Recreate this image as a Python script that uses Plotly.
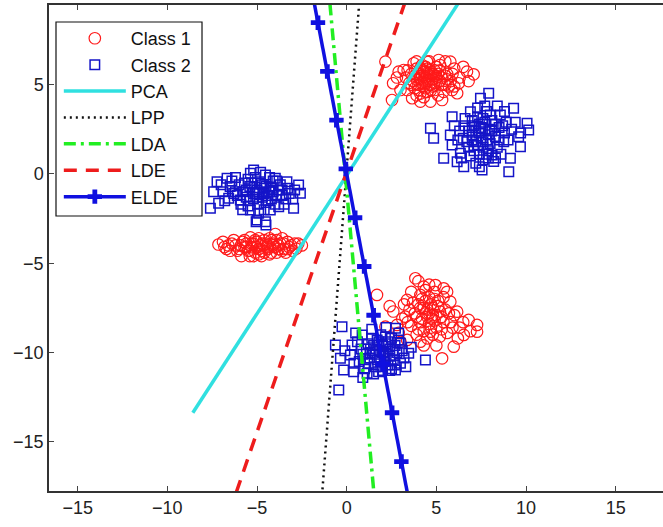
import plotly.graph_objects as go

# ---------------- data ----------------
# Class 1 (red circles) clusters, (x, y) pairs
class1_upper = [
    (2.16, 6.29), (2.59, 5.08), (2.53, 4.14), (2.90, 5.73), (4.11, 4.05), (4.67, 4.05), (5.32, 4.14), (5.88, 4.70),
    (6.25, 5.08), (6.71, 5.73), (7.08, 5.58), (5.78, 6.29), (5.13, 6.38), (4.48, 6.29), (3.74, 6.20), (3.18, 5.82),
    (3.37, 4.70), (3.65, 4.24), (6.16, 4.52), (4.2, 5.5), (4.5, 5.2), (4.8, 5.6), (4.3, 4.9), (5.0, 5.1), (4.6, 5.8),
    (3.9, 5.3), (5.3, 5.4), (4.1, 5.9), (4.9, 4.7), (5.5, 5.0), (3.8, 4.8), (4.4, 5.4), (4.7, 5.0), (5.2, 5.8),
    (3.6, 5.6), (4.0, 5.0), (5.6, 5.6), (4.5, 4.6), (5.0, 6.0), (4.3, 5.7), (4.8, 5.3), (3.5, 5.1), (5.8, 5.2),
    (4.1, 4.5), (5.4, 4.6), (4.6, 5.5), (4.2, 6.1), (3.3, 5.4), (5.1, 4.4), (4.4, 5.1), (4.9, 5.5), (6.0, 5.9),
    (3.9, 4.4), (5.7, 4.9), (3.7, 5.2), (4.0, 5.6), (4.3, 5.3), (4.6, 5.0), (4.9, 5.8), (5.2, 5.2), (5.5, 5.5),
    (3.9, 5.9), (4.4, 4.8), (4.7, 5.6), (5.0, 5.4), (4.2, 5.1), (4.5, 5.9), (4.8, 4.9), (5.3, 5.0), (3.6, 5.0),
    (4.1, 5.4), (4.6, 5.3), (5.1, 5.6), (3.8, 5.5), (4.4, 6.0), (4.9, 5.1), (5.6, 5.3), (4.0, 4.7), (4.3, 5.8),
    (4.7, 4.7), (5.2, 6.1), (3.4, 5.8), (5.9, 5.6), (4.5, 5.6), (6.3, 5.4), (6.5, 6.0), (3.0, 4.7), (2.8, 5.4),
    (6.8, 5.2), (5.5, 6.3), (4.6, 6.3), (3.9, 6.3), (6.0, 4.9), (4.3, 4.3),
]
class1_left = [
    (-7.15, -3.95), (-6.82, -4.09), (-6.9, -3.8), (-6.5, -4.3), (-6.3, -3.7), (-6.0, -4.2), (-5.87, -4.6),
    (-5.6, -3.9), (-5.37, -3.55), (-5.3, -4.1), (-5.1, -4.4), (-5.0, -3.8), (-4.8, -4.0), (-4.7, -4.3), (-4.5, -3.9),
    (-4.4, -4.2), (-4.2, -3.7), (-4.0, -4.1), (-3.98, -3.36), (-3.9, -4.4), (-3.7, -3.9), (-3.5, -4.2), (-3.3, -3.8),
    (-3.1, -4.0), (-2.81, -4.18), (-2.7, -3.9), (-2.5, -4.0), (-5.5, -4.3), (-4.9, -3.6), (-4.3, -4.5), (-3.6, -3.6),
    (-6.2, -4.0), (-5.8, -3.8), (-4.6, -3.7), (-4.1, -3.9), (-5.2, -3.9), (-4.9, -4.2), (-3.8, -4.0), (-4.4, -4.0),
    (-5.7, -4.1), (-6.6, -4.0), (-3.4, -4.4), (-4.75, -4.6), (-5.4, -4.6), (-3.0, -4.3), (-5.9, -4.0), (-5.6, -4.1),
    (-5.3, -3.9), (-5.0, -4.1), (-4.7, -3.9), (-4.4, -4.1), (-4.1, -4.0), (-3.8, -4.2), (-3.5, -3.9), (-3.2, -4.1),
    (-6.1, -4.3), (-5.4, -4.3), (-4.6, -4.4), (-3.9, -3.7), (-5.1, -3.7), (-6.4, -3.9), (-2.9, -3.9), (-4.2, -4.4),
    (-5.7, -3.7), (-4.9, -4.5), (-3.6, -4.3), (-6.7, -4.2), (-4.3, -3.6), (-5.2, -4.6), (-3.3, -4.2),
]
class1_lower = [
    (1.69, -6.77), (3.83, -5.84), (4.30, -6.31), (4.95, -6.22), (5.41, -6.40), (5.78, -7.15), (6.80, -8.17),
    (7.27, -8.45), (7.27, -8.83), (6.53, -9.01), (5.97, -9.67), (5.32, -10.32), (4.11, -9.39), (3.37, -9.29),
    (2.81, -8.45), (2.16, -8.55), (3.27, -7.99), (3.37, -7.05), (4.11, -6.77), (6.16, -7.71), (4.67, -8.83),
    (4.5, -7.6), (4.8, -7.9), (4.2, -8.1), (5.1, -7.4), (4.6, -8.4), (4.0, -7.3), (5.3, -8.0), (4.9, -7.0),
    (4.4, -7.1), (5.0, -8.6), (3.8, -7.8), (5.5, -7.6), (4.3, -8.8), (4.7, -7.3), (5.8, -8.3), (3.6, -8.5),
    (5.2, -9.1), (4.1, -7.5), (4.9, -6.6), (3.5, -7.6), (5.6, -8.9), (4.5, -9.2), (6.0, -7.9), (3.1, -8.1),
    (4.4, -6.5), (5.4, -6.9), (2.6, -7.7), (3.9, -9.0), (6.3, -8.6), (4.75, -8.1), (4.6, -7.8), (4.3, -7.5),
    (4.9, -8.2), (4.5, -8.0), (5.2, -7.7), (4.1, -8.3), (4.8, -7.5), (5.0, -7.9), (4.4, -7.8), (4.7, -8.6),
    (5.4, -8.3), (3.9, -8.0), (4.2, -7.0), (5.1, -7.1), (4.6, -6.9), (5.7, -7.8), (3.7, -7.2), (4.0, -8.7),
    (5.3, -8.7), (4.8, -9.0), (3.4, -8.3), (5.9, -8.6), (4.3, -9.6), (4.6, -6.2), (3.2, -7.3), (6.5, -8.3),
    (5.0, -9.6), (2.9, -8.9), (6.2, -9.2), (3.6, -6.6), (5.6, -6.6), (4.0, -6.0), (2.4, -7.4), (6.9, -8.8),
    (3.0, -9.4),
]

# Class 2 (blue squares) clusters
class2_right = [
    (7.92, 4.52), (7.46, 4.24), (4.67, 2.56), (4.85, 2.00), (5.41, 0.88), (5.88, 3.21), (6.16, 0.69), (6.53, 0.41),
    (7.55, 0.22), (9.04, 0.13), (9.13, 0.88), (10.06, 2.84), (10.15, 2.46), (9.31, 3.68), (9.59, 2.09), (9.69, 1.53),
    (6.90, 3.49), (8.57, 3.30), (5.78, 2.18), (5.88, 1.62), (6.34, 1.16), (8.11, 1.06), (8.76, 1.81), (7.4, 2.3),
    (7.8, 1.9), (7.1, 2.7), (8.0, 2.5), (7.6, 1.5), (7.2, 1.8), (8.3, 2.1), (7.0, 2.2), (7.7, 2.9), (8.5, 2.6),
    (6.8, 1.5), (7.4, 1.1), (8.1, 3.0), (6.6, 2.7), (7.9, 1.3), (8.8, 2.3), (7.3, 3.2), (6.9, 1.0), (8.4, 1.5),
    (7.5, 2.6), (6.5, 2.0), (8.9, 2.9), (7.1, 1.3), (7.8, 3.5), (8.2, 0.7), (7.6, 0.8), (6.3, 2.4), (9.2, 2.5),
    (7.0, 3.0), (8.6, 1.1), (7.5, 2.0), (7.2, 2.4), (7.9, 2.2), (7.6, 1.8), (8.1, 2.4), (7.3, 1.6), (7.7, 2.5),
    (8.0, 1.7), (7.0, 1.9), (7.4, 2.8), (8.3, 2.8), (7.8, 1.1), (6.8, 2.4), (8.5, 1.9), (7.1, 1.6), (7.6, 3.1),
    (8.7, 2.7), (6.7, 1.8), (7.9, 0.9), (7.2, 0.6), (8.0, 3.3), (6.6, 3.1), (9.0, 1.9), (8.3, 0.9), (7.0, 2.6),
    (7.4, 0.4), (6.2, 1.9), (9.4, 2.9), (8.8, 3.5), (6.0, 2.7), (7.7, 3.8), (9.7, 2.3), (6.4, 0.9), (8.4, 3.8),
    (7.3, 3.7),
]
class2_left = [
    (-7.60, -1.92), (-7.42, -0.99), (-7.14, -1.64), (-7.23, -0.43), (-6.67, -0.24), (-6.21, -0.99), (-5.37, 0.04),
    (-5.19, 0.22), (-4.53, -0.06), (-3.98, -0.24), (-3.33, -0.43), (-2.68, -0.62), (-2.58, -1.08), (-2.96, -1.92),
    (-3.79, -1.83), (-5.00, -2.58), (-4.53, -2.67), (-4.91, -2.20), (-4.26, -2.02), (-5.37, -2.02), (-5.93, -1.46),
    (-6.58, -1.36), (-5.05, -2.68), (-4.5, -2.86), (-5.0, -0.9), (-4.6, -1.1), (-5.4, -0.7), (-4.2, -0.8),
    (-5.8, -1.0), (-4.8, -0.5), (-3.9, -1.2), (-5.2, -1.4), (-4.4, -1.5), (-6.0, -0.6), (-3.6, -0.9), (-5.6, -1.3),
    (-4.9, -1.7), (-3.4, -1.4), (-6.3, -1.1), (-4.1, -0.4), (-5.5, -0.3), (-4.7, -1.3), (-3.7, -0.6), (-6.5, -0.7),
    (-5.1, -1.1), (-4.3, -1.0), (-3.2, -1.1), (-5.9, -1.7), (-4.5, -0.7), (-6.9, -1.0), (-3.5, -1.7), (-5.3, -0.5),
    (-4.9, -1.0), (-4.6, -0.8), (-5.2, -1.1), (-4.4, -1.2), (-5.6, -0.9), (-4.1, -1.0), (-5.0, -1.3), (-4.7, -0.6),
    (-5.4, -1.5), (-3.8, -0.9), (-6.1, -1.2), (-4.2, -1.4), (-5.7, -0.5), (-3.9, -0.4), (-4.5, -1.6), (-6.4, -0.4),
    (-3.3, -0.8), (-5.1, -0.2), (-4.0, -1.7), (-6.8, -1.5), (-3.0, -1.4), (-5.8, -2.0), (-4.6, -2.0), (-3.6, -1.2),
    (-6.2, -0.2), (-4.3, -0.2), (-5.5, -1.8), (-2.9, -0.9), (-7.0, -0.6), (-4.8, 0.1),
]
class2_bottom = [
    (-0.44, -12.09), (-0.26, -8.55), (-0.63, -9.57), (-0.35, -10.32), (-0.17, -10.97), (0.39, -11.07), (0.30, -9.57),
    (0.86, -9.01), (2.72, -8.64), (2.16, -9.11), (3.46, -10.04), (4.39, -10.41), (2.72, -10.97), (1.78, -11.07),
    (1.14, -11.16), (2.99, -9.48), (0.21, -10.13), (1.8, -9.9), (2.1, -10.2), (1.5, -9.6), (2.4, -9.8), (1.9, -10.5),
    (1.3, -10.3), (2.6, -10.4), (1.7, -9.3), (2.2, -9.5), (1.1, -9.8), (2.8, -10.0), (1.6, -10.8), (2.0, -10.0),
    (2.5, -9.2), (1.2, -10.6), (2.3, -10.7), (0.9, -10.1), (3.0, -10.6), (1.4, -9.2), (2.9, -9.3), (0.7, -10.5),
    (1.9, -9.0), (3.2, -10.3), (0.6, -9.4), (2.4, -11.0), (1.0, -10.9), (2.7, -9.6), (1.9, -9.9), (2.2, -10.1),
    (1.6, -10.1), (2.0, -9.6), (2.4, -10.2), (1.7, -10.4), (2.1, -10.5), (1.5, -9.9), (2.6, -9.9), (1.3, -10.0),
    (1.9, -10.8), (2.3, -9.4), (1.0, -10.4), (2.7, -10.7), (1.8, -9.4), (2.5, -10.9), (1.2, -9.5), (3.1, -9.9),
    (0.8, -9.8), (2.0, -11.0), (3.3, -10.8), (0.4, -10.6), (1.5, -11.2), (2.9, -8.9), (0.5, -8.9), (3.6, -9.7),
    (1.4, -8.7), (2.2, -8.6), (-0.1, -9.9), (0.9, -11.4),
]

# projection directions (end points of each line)
pca_x = [-8.58, 6.6]
pca_y = [-13.37, 10.14]
lpp_x = [-1.45, 0.77]
lpp_y = [-19.0, 10.5]
lda_x = [1.62, -1.02]
lda_y = [-19.0, 10.5]
lde_x = [-6.56, 3.56]
lde_y = [-19.0, 10.5]
elde_x = [-2.12, -1.60, -1.08, -0.57, -0.05, 0.47, 0.98, 1.50, 2.02, 2.53, 3.05, 3.57]
elde_y = [11.20, 8.47, 5.74, 3.01, 0.28, -2.45, -5.18, -7.91, -10.64, -13.37, -16.10, -18.83]

x_ticks = [-15, -10, -5, 0, 5, 10, 15]
y_ticks = [-15, -10, -5, 0, 5]

class1_pts = class1_upper + class1_left + class1_lower
class2_pts = class2_right + class2_left + class2_bottom

# ---------------- figure ----------------
fig = go.Figure()
fig.add_trace(go.Scatter(
    x=[p[0] for p in class1_pts], y=[p[1] for p in class1_pts], mode="markers", name="Class 1",
    marker=dict(symbol="circle-open", size=11.5, color="#ff1a1a", line=dict(width=1.2, color="#ff1a1a")),
))
fig.add_trace(go.Scatter(
    x=[p[0] for p in class2_pts], y=[p[1] for p in class2_pts], mode="markers", name="Class 2",
    marker=dict(symbol="square-open", size=9.5, color="#1414c8", line=dict(width=1.5, color="#1414c8")),
))
fig.add_trace(go.Scatter(x=pca_x, y=pca_y, mode="lines", name="PCA",
                         line=dict(color="#30e0e0", width=3.5)))
fig.add_trace(go.Scatter(x=lpp_x, y=lpp_y, mode="lines", name="LPP",
                         line=dict(color="#111111", width=2.5, dash="2px,4px")))
fig.add_trace(go.Scatter(x=lda_x, y=lda_y, mode="lines", name="LDA",
                         line=dict(color="#22ee22", width=3.5, dash="12px,5px,3px,5px")))
fig.add_trace(go.Scatter(x=lde_x, y=lde_y, mode="lines", name="LDE",
                         line=dict(color="#ee1c1c", width=3.5, dash="13px,9px")))
fig.add_trace(go.Scatter(x=elde_x, y=elde_y, mode="lines+markers", name="ELDE",
                         line=dict(color="#1010e0", width=3.5),
                         marker=dict(symbol="cross", size=12, color="#1010e0")))

axis_font = dict(family="Liberation Sans, Arial, sans-serif", size=18, color="#222222")
fig.update_layout(
    width=663, height=527,
    margin=dict(l=49, r=0, t=5, b=36),
    paper_bgcolor="white", plot_bgcolor="white",
    showlegend=True,
    legend=dict(
        x=0.016, y=0.969, xanchor="left", yanchor="top",
        borderwidth=0, bgcolor="rgba(0,0,0,0)",
        font=dict(family="Liberation Sans, Arial, sans-serif", size=18, color="#111111"),
        itemwidth=62,
    ),
    shapes=[dict(
        type="rect", xref="paper", yref="paper", x0=0.0114, x1=0.2492, y0=0.5658, y1=0.965,
        line=dict(color="#111111", width=1.2), fillcolor="white", layer="above",
    )],
    xaxis=dict(
        range=[-16.6, 17.64], tickvals=x_ticks, ticks="inside", ticklen=5,
        showline=True, linecolor="#333333", linewidth=1.5, mirror="ticks",
        showgrid=False, zeroline=False, tickfont=axis_font, automargin=False,
    ),
    yaxis=dict(
        range=[-17.75, 9.46], tickvals=y_ticks, ticks="inside", ticklen=5,
        showline=True, linecolor="#333333", linewidth=1.5, mirror=False,
        showgrid=False, zeroline=False, tickfont=axis_font, automargin=False,
    ),
)

fig.write_html("out.html", config={"displayModeBar": False},
               post_script="document.body.style.margin='0px';")
